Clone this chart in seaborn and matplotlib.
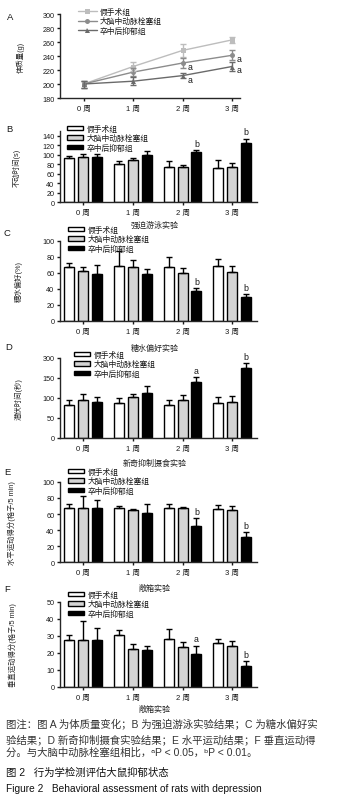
import numpy as np
import pandas as pd
import seaborn as sns
import matplotlib.pyplot as plt
from matplotlib.patches import Patch

# === DANE ===
weeks = ['0 周', '1 周', '2 周', '3 周']
groups = ['假手术组', '大脑中动脉栓塞组', '卒中后抑郁组']

# A: 体质量 (g)
weight_mean = [[200, 225, 248, 263], [200, 217, 230, 241], [200, 204, 212, 225]]
weight_err = [[5, 7, 9, 4], [5, 6, 7, 7], [5, 6, 4, 6]]
weight_sig = {(1, 2): 'a', (2, 2): 'a', (1, 3): 'a', (2, 3): 'a'}

# B: 强迫游泳实验
fst_mean = [[93, 81, 74, 72], [96, 89, 75, 73], [95, 100, 105, 125]]
fst_err = [[4, 5, 12, 16], [6, 3, 4, 9], [6, 8, 4, 9]]
fst_sig = {(2, 2): 'b', (2, 3): 'b'}

# C: 糖水偏好实验
spt_mean = [[68, 69, 68, 69], [62, 67, 60, 61], [59, 59, 37, 30]]
spt_err = [[4, 19, 12, 9], [6, 9, 6, 8], [11, 6, 4, 4]]
spt_sig = {(2, 2): 'b', (2, 3): 'b'}

# D: 新奇抑制摄食实验
nsf_mean = [[83, 87, 83, 87], [94, 102, 95, 89], [89, 113, 139, 174]]
nsf_err = [[13, 12, 13, 15], [17, 8, 12, 16], [14, 17, 13, 13]]
nsf_sig = {(2, 2): 'a', (2, 3): 'b'}
nsf_ticks = [0, 50, 100, 150, 200]
nsf_ticklabels = ['0', '50', '100', '150', '300']

# E: 敞箱实验 - 水平运动
hor_mean = [[67, 68, 67, 66], [68, 65, 67, 65], [68, 61, 45, 31]]
hor_err = [[5, 2, 6, 5], [14, 1, 1.5, 5], [10, 12, 10, 6]]
hor_sig = {(2, 2): 'b', (2, 3): 'b'}

# F: 敞箱实验 - 垂直运动
ver_mean = [[27.6, 30.6, 28.2, 26], [27.8, 22.5, 23.3, 24.3], [27.8, 21.9, 19.4, 12.5]]
ver_err = [[3, 3, 6, 2.2], [11, 3, 3, 3], [7, 2.4, 5, 3]]
ver_sig = {(2, 2): 'a', (2, 3): 'b'}

caption = [
    '图注：图 A 为体质量变化；B 为强迫游泳实验结果；C 为糖水偏好实',
    '验结果；D 新奇抑制摄食实验结果；E 水平运动结果；F 垂直运动得',
    '分。与大脑中动脉栓塞组相比，ᵃP < 0.05，ᵇP < 0.01。',
]
fig_title = '图 2   行为学检测评估大鼠抑郁状态'
fig_title_en = 'Figure 2   Behavioral assessment of rats with depression'

# === STYL ===
sns.set_style("ticks")
plt.rcParams['font.family'] = ['Liberation Sans', 'Noto Sans CJK SC', 'DejaVu Sans']
plt.rcParams['axes.linewidth'] = 1.0
plt.rcParams['xtick.major.width'] = 1.0
plt.rcParams['ytick.major.width'] = 1.0
plt.rcParams['xtick.major.size'] = 2.5
plt.rcParams['ytick.major.size'] = 2.5
plt.rcParams['xtick.major.pad'] = 2.5
plt.rcParams['ytick.major.pad'] = 1.5
plt.rcParams['text.color'] = '#1a1a1a'

line_colors = ['#bdbdbd', '#8c8c8c', '#6a6a6a']
bar_colors = ['white', '#d4d4d4', 'black']

W, H = 354, 803
fig = plt.figure(figsize=(W / 100, H / 100), dpi=100)


def add_ax(x0, y0, x1, y1):
    return fig.add_axes([x0 / W, 1 - y1 / H, (x1 - x0) / W, (y1 - y0) / H])


def long_df(means):
    rows = [(w, g, v) for g, vals in zip(groups, means) for w, v in zip(weeks, vals)]
    return pd.DataFrame(rows, columns=['week', 'group', 'value'])


def style_axes(ax, box, ylabel, ylab_x, xlabel, xlab_y):
    x0, y0, x1, y1 = box
    sns.despine(ax=ax)
    ax.tick_params(labelsize=5.2, colors='#1a1a1a')
    for t in ax.get_xticklabels():
        t.set_fontsize(5.5)
    ax.set_ylabel(ylabel, fontsize=5.3, labelpad=0)
    ax.yaxis.set_label_coords((ylab_x - x0) / (x1 - x0), 0.5)
    if xlabel:
        ax.set_xlabel(xlabel, fontsize=5.8)
        ax.xaxis.set_label_coords((155 - x0) / (x1 - x0), (y1 - xlab_y) / (y1 - y0))
    else:
        ax.set_xlabel('')


def bar_panel(box, means, errs, sig, ylim, yticks, ylabel, ylab_x, xlabel, xlab_y,
              leg_xy, letter, letter_xy, yticklabels=None):
    ax = add_ax(*box)
    sns.barplot(data=long_df(means), x='week', y='value', hue='group',
                order=weeks, hue_order=groups, palette=bar_colors,
                edgecolor='black', linewidth=1.0, width=0.84, gap=0.28,
                errorbar=None, legend=False, ax=ax)
    for gi, (cont, err_row) in enumerate(zip(ax.containers, errs)):
        bars = sorted(cont.patches, key=lambda b: b.get_x())
        xs = [b.get_x() + b.get_width() / 2 for b in bars]
        ys = [b.get_height() for b in bars]
        ax.errorbar(xs, ys, yerr=[np.zeros(len(err_row)), err_row], fmt='none',
                    ecolor='black', elinewidth=1.0, capsize=2.2, capthick=1.0, zorder=3)
        for wi, (x, y, e) in enumerate(zip(xs, ys, err_row)):
            if (gi, wi) in sig:
                ax.annotate(sig[(gi, wi)], xy=(x, y + e), xytext=(0, 1.5),
                            textcoords='offset points', ha='center', va='bottom', fontsize=6.3)
    ax.set_xlim(-0.47, 3.5)
    ax.set_ylim(*ylim)
    ax.set_yticks(yticks)
    if yticklabels is not None:
        ax.set_yticklabels(yticklabels)
    style_axes(ax, box, ylabel, ylab_x, xlabel, xlab_y)
    handles = [Patch(facecolor=c, edgecolor='black', linewidth=1.0) for c in bar_colors]
    ax.legend(handles, groups, loc='upper left', frameon=False, fontsize=5.6,
              bbox_to_anchor=(leg_xy[0] / W, 1 - leg_xy[1] / H), bbox_transform=fig.transFigure,
              handlelength=2.0, handleheight=0.5, handletextpad=0.5, labelspacing=0.15,
              borderpad=0, borderaxespad=0)
    fig.text(letter_xy[0] / W, 1 - letter_xy[1] / H, letter, fontsize=6.8, va='center', ha='left')
    return ax


# === A: linie ===
boxA = (60, 15, 240, 99)
axA = add_ax(*boxA)
dfA = long_df(weight_mean)
sns.lineplot(data=dfA, x='week', y='value', hue='group', style='group',
             hue_order=groups, style_order=groups, palette=line_colors,
             markers=['s', 'o', '^'], dashes=False, markersize=3.6, linewidth=1.0,
             markeredgewidth=0, legend=False, sort=False, ax=axA)
line_handles = axA.get_lines()[:3]
for gi, (vals, errs) in enumerate(zip(weight_mean, weight_err)):
    axA.errorbar(weeks, vals, yerr=errs, fmt='none', ecolor=line_colors[gi],
                 elinewidth=1.0, capsize=2.2, capthick=1.0)
    for wi, v in enumerate(vals):
        if (gi, wi) in weight_sig:
            axA.annotate(weight_sig[(gi, wi)], xy=(weeks[wi], v), xytext=(3.5, -2.5),
                         textcoords='offset points', ha='left', va='center', fontsize=6.3)
axA.set_xlim(-0.48, 3.16)
axA.set_ylim(180, 300)
axA.set_yticks(range(180, 301, 20))
style_axes(axA, boxA, '体质量(g)', 25, None, None)
axA.legend(line_handles, groups, loc='upper left', frameon=False, fontsize=5.6,
           bbox_to_anchor=(78 / W, 1 - 9 / H), bbox_transform=fig.transFigure,
           handlelength=2.4, handletextpad=0.4, labelspacing=0.15, borderpad=0, borderaxespad=0)
fig.text(7 / W, 1 - 17 / H, 'A', fontsize=6.8, va='center', ha='left')

# === B-F: słupki ===
bar_panel((60, 132, 257, 203), fst_mean, fst_err, fst_sig, (0, 150), range(0, 141, 20),
          '不动时间(s)', 21, '强迫游泳实验', 222, (67, 126), 'B', (6, 130))
bar_panel((60, 242, 257, 322), spt_mean, spt_err, spt_sig, (0, 100), range(0, 101, 20),
          '糖水偏好(%)', 23, '糖水偏好实验', 345, (68, 227), 'C', (4, 233))
bar_panel((60, 359, 257, 439), nsf_mean, nsf_err, nsf_sig, (0, 200), nsf_ticks,
          '潜伏时间(秒)', 23, '新奇抑制摄食实验', 460, (74, 352), 'D', (5, 348),
          yticklabels=nsf_ticklabels)
bar_panel((60, 483, 257, 563), hor_mean, hor_err, hor_sig, (0, 100), range(0, 101, 20),
          '水平运动得分(格子/5 min)', 16, '敞箱实验', 585, (68, 469), 'E', (4, 473))
bar_panel((60, 603, 257, 688), ver_mean, ver_err, ver_sig, (0, 50), range(0, 51, 10),
          '垂直运动得分(格子/5 min)', 17, '敞箱实验', 706, (68, 592), 'F', (4, 590))

# === PODPIS ===
for line, y in zip(caption, [724, 740, 753]):
    fig.text(6 / W, 1 - y / H, line, fontsize=7.5, va='center', ha='left', color='#333333')
fig.text(6 / W, 1 - 773 / H, fig_title, fontsize=7.5, va='center', ha='left', color='#111111')
fig.text(6 / W, 1 - 789 / H, fig_title_en, fontsize=7.3, va='center', ha='left', color='#111111')

fig.savefig('out.png', dpi=100)
